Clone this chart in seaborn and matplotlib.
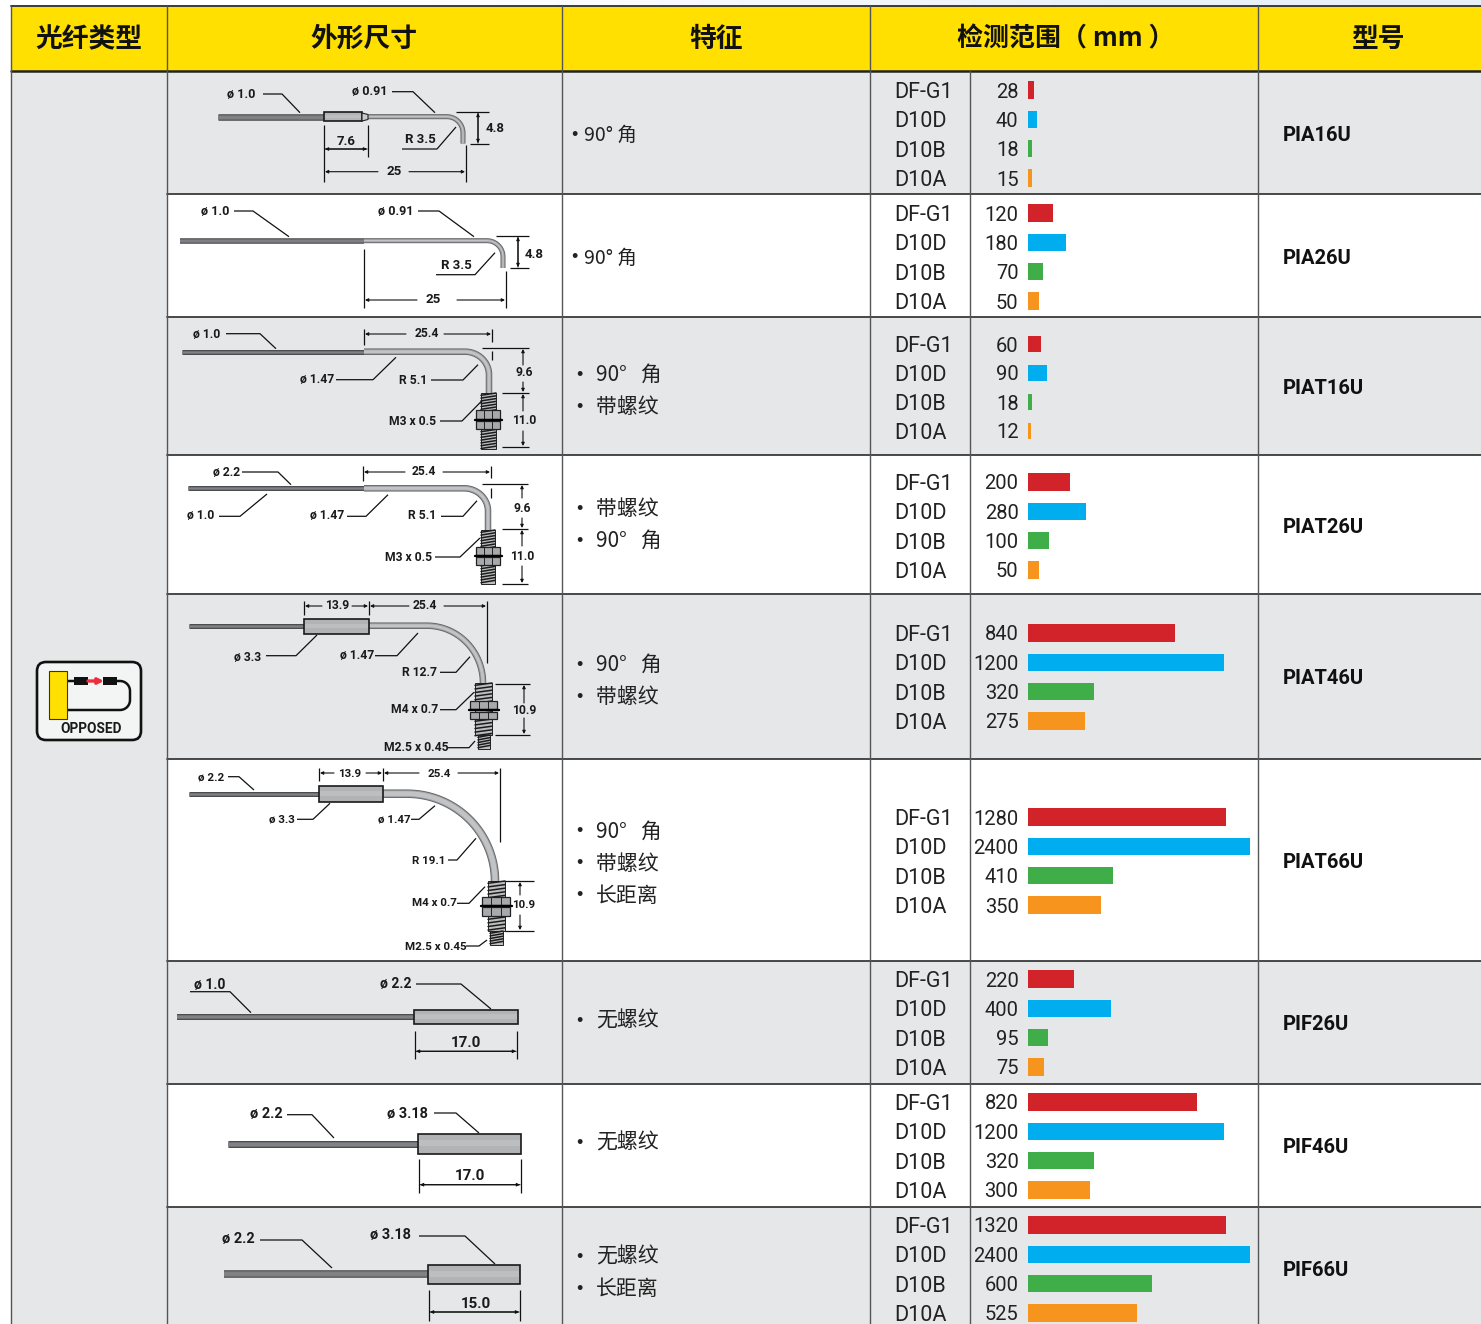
import numpy as np
import pandas as pd
import matplotlib
matplotlib.use('Agg')
import matplotlib.pyplot as plt
import seaborn as sns
from matplotlib.colors import LinearSegmentedColormap
from matplotlib.patches import Rectangle, FancyBboxPatch

W, H = 1481, 1324

# table text
headers = ['光纤类型', '外形尺寸', '特征', '检测范围（ mm ）', '型号']
sensors = ['DF-G1', 'D10D', 'D10B', 'D10A']
models = ['PIA16U', 'PIA26U', 'PIAT16U', 'PIAT26U', 'PIAT46U', 'PIAT66U', 'PIF26U', 'PIF46U', 'PIF66U']
bar_colors = ['#D2232A', '#00AEEF', '#3FAE49', '#F7941E']

feature_lines = [
    ['90° 角'], ['90° 角'],
    ['90°   角', '带螺纹'], ['带螺纹', '90°   角'], ['90°   角', '带螺纹'],
    ['90°   角', '带螺纹', '长距离'],
    ['无螺纹'], ['无螺纹'], ['无螺纹', '长距离'],
]

# printed ranges in mm
range_pia16u = [28, 40, 18, 15]
range_pia26u = [120, 180, 70, 50]
range_piat16u = [60, 90, 18, 12]
range_piat26u = [200, 280, 100, 50]
range_piat46u = [840, 1200, 320, 275]
range_piat66u = [1280, 2400, 410, 350]
range_pif26u = [220, 400, 95, 75]
range_pif46u = [820, 1200, 320, 300]
range_pif66u = [1320, 2400, 600, 525]

# the bars are not to scale with the numbers, so lengths are read separately
bars_pia16u = [6, 9, 4, 4]
bars_pia26u = [25, 38, 15, 11]
bars_piat16u = [13, 19, 4, 3]
bars_piat26u = [42, 58, 21, 11]
bars_piat46u = [147, 196, 66, 57]
bars_piat66u = [198, 222, 85, 73]
bars_pif26u = [46, 83, 20, 16]
bars_pif46u = [169, 196, 66, 62]
bars_pif66u = [198, 222, 124, 109]

all_ranges = [range_pia16u, range_pia26u, range_piat16u, range_piat26u, range_piat46u,
              range_piat66u, range_pif26u, range_pif46u, range_pif66u]
all_bars = [bars_pia16u, bars_pia26u, bars_piat16u, bars_piat26u, bars_piat46u,
            bars_piat66u, bars_pif26u, bars_pif46u, bars_pif66u]

# layout in picture pixels
row_edges = [71, 194, 317, 455, 594, 759, 961, 1084, 1207, 1340]
first_label_y = [90, 213, 344, 482, 633, 817, 979, 1102, 1225]
last_label_y = [178, 301, 431, 570, 721, 905, 1067, 1190, 1313]
model_y = [134, 257, 387, 526, 677, 861, 1023, 1146, 1269]
feature_y = [[134], [257], [374, 406], [508, 540], [664, 696], [831, 863, 895], [1020], [1142], [1256, 1288]]
col_x = [11, 167, 562, 870, 1258]

sns.set_theme(style='white')
NARROW = 'Roboto'
CJK = ['Noto Sans CJK SC', 'DejaVu Sans']
plt.rcParams['font.family'] = CJK

fig = plt.figure(figsize=(W / 100, H / 100), dpi=100, facecolor='white')
ax = fig.add_axes([0, 0, 1, 1])

GRAY = '#E6E7E8'
YELLOW = '#FFE000'
LINE = '#3A3A3A'

# pale blue strip above the header
strip = LinearSegmentedColormap.from_list('strip', ['#FFFFFF', '#FFFFFF', '#F6F9FC', '#E9F1F9', '#E6EFF8'])
ax.imshow(np.linspace(0, 1, 256)[None, :], cmap=strip, extent=(0, W, 6, 0), aspect='auto', zorder=0)
ax.set_xlim(0, W)
ax.set_ylim(H, 0)
ax.axis('off')

# backgrounds
ax.add_patch(Rectangle((11, 6), W - 11, 65, fc=YELLOW, ec='none', zorder=0))
ax.add_patch(Rectangle((11, 71), 156, H - 71, fc=GRAY, ec='none', zorder=0))
for i in range(9):
    if i % 2 == 0:
        ax.add_patch(Rectangle((167, row_edges[i]), W - 167, row_edges[i + 1] - row_edges[i],
                               fc=GRAY, ec='none', zorder=0))

# grid lines
ax.plot([11, W], [6, 6], color=LINE, lw=1.4, zorder=1)
ax.plot([11, W], [71, 71], color='#222222', lw=1.8, zorder=1)
for y in row_edges[1:-1]:
    ax.plot([167, W], [y, y], color=LINE, lw=1.3, zorder=1)
for x in col_x:
    ax.plot([x, x], [6, H], color='#555555', lw=1.0, zorder=1)
ax.plot([970, 970], [71, H], color='#555555', lw=1.0, zorder=1)

# header
header_x = [89, 364, 716, 1066, 1378]
header_size = [19.3, 19.3, 19.3, 18.7, 19.3]
for x, s, fs in zip(header_x, headers, header_size):
    ax.text(x, 39, s, ha='center', va='center', fontsize=fs, fontweight='bold', color='#111111', family=CJK)

# feature bullets and model names
for i in range(9):
    small = i < 2
    for y, s in zip(feature_y[i], feature_lines[i]):
        ax.text(571 if small else 576, y + 1, '•', ha='left', va='center', fontsize=13,
                color='#222222', family='Liberation Sans')
        ax.text(584 if small else 596, y + 1, s, ha='left', va='center', fontsize=14 if small else 15,
                color='#222222', family=CJK)
    ax.text(1283, model_y[i] + 1.5, models[i], ha='left', va='center', fontsize=14.5, fontweight='bold',
            color='#111111', family=NARROW)


# bars, one small axes per row
for i in range(9):
    step = (last_label_y[i] - first_label_y[i]) / 3
    top = first_label_y[i] - step / 2
    height = step * 4
    axb = fig.add_axes([1028 / W, 1 - (top + height) / H, 230 / W, height / H])
    df = pd.DataFrame({'sensor': sensors, 'length': all_bars[i]})
    sns.barplot(data=df, x='length', y='sensor', hue='sensor', palette=bar_colors, legend=False,
                width=0.58, saturation=1, orient='h', linewidth=0, edgecolor='none', ax=axb)
    axb.set_xlim(0, 230)
    axb.set_ylim(3.5, -0.5)
    axb.patch.set_alpha(0)
    axb.set_xlabel('')
    axb.set_ylabel('')
    axb.xaxis.set_visible(False)
    axb.tick_params(axis='y', length=0, pad=134 * 0.72)
    for lab in axb.get_yticklabels():
        lab.set_ha('left')
        lab.set_family(NARROW)
        lab.set_fontsize(15.5)
        lab.set_color('#222222')
    for k, v in enumerate(all_ranges[i]):
        axb.annotate(str(v), xy=(0, k), xytext=(-6.8, 0), textcoords='offset points', ha='right',
                     va='center_baseline', fontsize=14.5, color='#222222', family=NARROW)
    sns.despine(ax=axb, left=True, bottom=True)


# drawing helpers, all in picture pixels
def label(x, y, s, size=10.5):
    ax.text(x, y + 0.8, s, ha='center', va='center', fontsize=size * 0.87, fontweight='bold', color='#1a1a1a',
            family=NARROW, zorder=6)


def leader(*pts):
    xs, ys = zip(*pts)
    ax.plot(xs, ys, color='#111111', lw=0.9, zorder=5, solid_capstyle='butt')


def seg(x0, y0, x1, y1, lw=0.9):
    ax.plot([x0, x1], [y0, y1], color='#111111', lw=lw, zorder=5, solid_capstyle='butt')


def arrow(x0, y0, x1, y1):
    ax.annotate('', xy=(x1, y1), xytext=(x0, y0), zorder=5,
                arrowprops=dict(arrowstyle='-|>', mutation_scale=4.5, lw=0.8, color='#111111',
                                shrinkA=0, shrinkB=0))


def dim_h(x0, x1, y, gap=None):
    if gap is None:
        arrow(x0, y, x1, y)
        arrow(x1, y, x0, y)
    else:
        arrow(gap[0], y, x0, y)
        arrow(gap[1], y, x1, y)


def dim_v(x, y0, y1, gap=None):
    if gap is None:
        arrow(x, y0, x, y1)
        arrow(x, y1, x, y0)
    else:
        arrow(x, gap[0], x, y0)
        arrow(x, gap[1], x, y1)


def tube(xs, ys, thick, outer, mid, light):
    ax.plot(xs, ys, color=outer, lw=thick * 0.72, zorder=3, solid_capstyle='butt', solid_joinstyle='round')
    ax.plot(xs, ys, color=mid, lw=(thick - 1.6) * 0.72, zorder=3, solid_capstyle='butt', solid_joinstyle='round')
    ax.plot(xs, ys, color=light, lw=(thick - 3.6) * 0.72, zorder=3, solid_capstyle='butt', solid_joinstyle='round')


def dark_fiber(x0, x1, y, thick=5.5):
    tube([x0, x1], [y, y], thick, '#444547', '#6D6E71', '#808285')


def bent_tube(x0, y0, x_start, x_end, y_end, y_stop, thick=5.5):
    # straight run, quarter curve, then straight down
    t = np.linspace(0, np.pi / 2, 40)
    xs = x_start + (x_end - x_start) * np.sin(t)
    ys = y_end + (y0 - y_end) * np.cos(t)
    xs = np.r_[x0, xs, x_end]
    ys = np.r_[y0, ys, y_stop]
    tube(xs, ys, thick, '#5F6062', '#9A9C9F', '#C2C3C5')


def sleeve(x0, x1, y0, y1):
    ax.add_patch(Rectangle((x0, y0), x1 - x0, y1 - y0, fc='#B1B3B5', ec='#1a1a1a', lw=1.2, zorder=4))
    ax.add_patch(Rectangle((x0 + 1, (y0 + y1) / 2 - (y1 - y0) * 0.18), x1 - x0 - 2, (y1 - y0) * 0.3,
                           fc='#BDBEC0', ec='none', zorder=4))


def thread(x0, x1, y0, y1, pitch=2.8):
    ax.add_patch(Rectangle((x0, y0), x1 - x0, y1 - y0, fc='#BCBEC0', ec='#222222', lw=0.7, zorder=4))
    for y in np.arange(y0 + 1, y1, pitch):
        ax.plot([x0, x1], [y + 1.3, y - 1.0], color='#1c1c1c', lw=1.1, zorder=4)


def nuts(x0, x1, top1, bot1, plate, top2, bot2):
    for a, b in [(top1, bot1), (top2, bot2)]:
        ax.add_patch(Rectangle((x0, a), x1 - x0, b - a, fc='#A7A9AC', ec='#222222', lw=0.9, zorder=4.5))
        w = x1 - x0
        for f in [0.33, 0.67]:
            ax.plot([x0 + w * f] * 2, [a, b], color='#222222', lw=0.7, zorder=4.5)
    ax.plot([x0 - 1, x1 + 2], [plate, plate], color='#000000', lw=1.7, zorder=4.6)


# row 1
dark_fiber(218, 324, 116.7, 6.5)
bent_tube(368, 116.7, 447, 463, 133, 143.5, 5)
sleeve(324, 362, 112, 121)
ax.fill([362, 368, 368, 362], [113, 114.5, 119.5, 121], fc='#C9CACC', ec='#222222', lw=0.8, zorder=4)
label(241, 94, 'ø 1.0')
leader((263, 94), (282, 94), (300, 112.7))
label(370, 91, 'ø 0.91')
leader((392, 91.7), (413, 91.7), (435, 112.7))
seg(324, 125, 324, 182)
seg(368, 125, 368, 157)
dim_h(325, 367, 149)
label(346, 141, '7.6', 11)
dim_h(325, 465, 171.7, gap=(378, 409))
label(394, 171, '25', 11)
seg(466, 145, 466, 182)
seg(456, 112.3, 489, 112.3)
seg(470, 143.7, 489, 143.7)
dim_v(478, 113, 143)
label(495, 128, '4.8', 11)
label(420, 138.5, 'R 3.5', 11)
leader((402, 149), (437, 149), (456, 127))

# row 2
dark_fiber(180, 364, 240.7, 5.5)
bent_tube(364, 240.7, 487, 503, 256.7, 268, 5)
label(215, 211, 'ø 1.0')
leader((234, 211), (253, 211), (289, 236.7))
label(396, 211, 'ø 0.91')
leader((418, 211), (439, 211), (474, 236.7))
seg(496, 236, 529, 236)
seg(510, 268, 529, 268)
dim_v(518, 237, 267)
label(534, 254, '4.8', 11)
label(456, 264.5, 'R 3.5', 11)
leader((436, 274.7), (475, 274.7), (495, 252.7))
seg(364, 249, 364, 308)
seg(506, 271, 506, 308)
dim_h(365, 505, 300, gap=(417, 457))
label(433, 299, '25', 11)

# row 3
dark_fiber(182, 364, 351.7, 5)
bent_tube(364, 351.7, 465, 489, 374.7, 393, 6.5)
thread(481, 496, 393, 449)
nuts(476, 500, 410, 419, 420, 421, 429)
label(207, 334, 'ø 1.0', 10)
leader((226, 333.7), (260, 333.7), (276, 348.7))
label(317, 379, 'ø 1.47', 10)
leader((336, 379.7), (373, 379.7), (396, 357.3))
label(413, 380, 'R 5.1', 10)
leader((431, 380), (463, 380), (478, 364.7))
label(413, 420.7, 'M3 x 0.5', 10)
leader((440, 421), (462, 421), (482, 400.7))
seg(364, 329, 364, 345)
seg(492, 329, 492, 342)
seg(492, 351, 492, 360)
dim_h(365, 491, 334, gap=(406, 444))
label(427, 333, '25.4', 10)
seg(482, 348, 529, 348)
seg(502, 393, 529, 393)
seg(502, 447, 529, 447)
dim_v(523, 349, 392, gap=(365, 382))
label(524, 372, '9.6', 10)
dim_v(523, 394, 446, gap=(411, 431))
label(524, 420, '11.0', 10)

# row 4
dark_fiber(188, 364, 488.3, 5)
bent_tube(364, 488.3, 464, 488, 511, 530, 6.5)
thread(481, 495, 530, 584)
nuts(476, 500, 547, 555, 556, 557, 565)
label(227, 472, 'ø 2.2', 10)
leader((242, 472), (278, 472), (291, 484.7))
label(201, 515, 'ø 1.0', 10)
leader((219, 516.3), (240, 516.3), (267, 494))
label(327, 515, 'ø 1.47', 10)
leader((347, 516.3), (366, 516.3), (388, 494.7))
label(422, 515, 'R 5.1', 10)
leader((441, 516.3), (463, 516.3), (477, 500.7))
label(409, 556.7, 'M3 x 0.5', 10)
leader((435, 557), (460, 557), (480, 538))
seg(363, 466, 363, 481)
seg(491, 466, 491, 478)
seg(491, 488, 491, 498)
dim_h(364, 490, 472, gap=(405, 443))
label(424, 471, '25.4', 10)
seg(482, 484, 528, 484)
seg(502, 528.7, 528, 528.7)
seg(502, 584, 528, 584)
dim_v(522, 485, 528, gap=(498, 518))
label(522, 508, '9.6', 10)
dim_v(522, 530, 583, gap=(546, 566))
label(522.5, 556, '11.0', 10)

# row 5
dark_fiber(189, 304, 625.7, 5)
bent_tube(369, 625.7, 427, 483, 683, 684, 6.5)
thread(475, 492, 683, 735, 3.6)
thread(478, 490, 735, 749, 2.6)
nuts(470, 497, 701, 709, 710, 712, 719)
sleeve(304, 369, 619, 634)
seg(304, 601, 304, 615)
seg(369, 601, 369, 615)
dim_h(305, 368, 606, gap=(322, 352))
label(337, 605, '13.9', 10)
dim_h(370, 486, 606, gap=(409, 444))
label(425, 605, '25.4', 10)
seg(487, 601, 487, 663)
label(248, 657, 'ø 3.3', 10)
leader((266, 655.7), (296, 655.7), (317, 635))
label(357, 655, 'ø 1.47', 10)
leader((375, 655.7), (397, 655.7), (418, 633))
label(420, 671.7, 'R 12.7', 10)
leader((440, 672.3), (456, 672.3), (470, 656.7))
label(415, 708.7, 'M4 x 0.7', 10)
leader((440, 709.7), (456, 709.7), (474, 692.3))
label(416, 746.7, 'M2.5 x 0.45', 10)
leader((448, 747.7), (469, 747.7), (475, 741))
seg(495, 684, 530, 684)
seg(495, 734.7, 530, 734.7)
dim_v(524, 685, 734, gap=(703, 718))
label(524, 710, '10.9', 10)

# row 6
dark_fiber(189, 319, 793.7, 5)
bent_tube(383, 793.7, 407, 495, 881, 882, 8.5)
thread(488, 505, 881, 931, 3.6)
thread(490, 503, 931, 945, 2.6)
nuts(482, 510, 897, 905, 906, 907, 916)
sleeve(319, 383, 786, 802)
label(211, 777, 'ø 2.2', 9.5)
leader((228, 776.7), (239, 776.7), (254, 790))
seg(319, 768, 319, 781)
seg(383, 768, 383, 781)
dim_h(320, 382, 773, gap=(334, 366))
label(350, 773, '13.9', 9.5)
dim_h(384, 499, 773, gap=(419, 458))
label(439, 773, '25.4', 9.5)
seg(500, 768, 500, 842)
label(282, 819, 'ø 3.3', 9.5)
leader((297, 819.3), (313, 819.3), (330, 803.3))
label(394, 819, 'ø 1.47', 9.5)
leader((411, 819.3), (419, 819.3), (435, 805.7))
label(429, 860, 'R 19.1', 9.5)
leader((448, 860), (457, 860), (476, 838.3))
label(434, 902.7, 'M4 x 0.7', 9.5)
leader((457, 903.3), (469, 903.3), (485, 886.7))
label(436, 945.7, 'M2.5 x 0.45', 9.5)
leader((466, 946), (479, 946), (487, 940))
seg(505, 880.7, 534, 880.7)
seg(505, 931, 534, 931)
dim_v(520, 882, 930, gap=(895, 915))
label(524, 904, '10.9', 9.5)

# row 7
dark_fiber(177, 414, 1017.3, 6)
sleeve(414, 518, 1010, 1024)
label(210, 984, 'ø 1.0', 11.5)
leader((190, 991.7), (230, 991.7), (251, 1012.7))
label(396, 983.5, 'ø 2.2', 11.5)
leader((416, 984), (461, 984), (491, 1009))
seg(415, 1031, 415, 1059)
seg(517, 1031, 517, 1059)
dim_h(416, 516, 1051.3)
label(466, 1042, '17.0', 12.5)

# row 8
dark_fiber(228, 418, 1144, 7)
sleeve(418, 521, 1134, 1154)
label(266, 1113, 'ø 2.2', 12)
leader((287, 1114.7), (312, 1114.7), (334, 1138))
label(407, 1113, 'ø 3.18', 12)
leader((434, 1113), (456, 1113), (479, 1133))
seg(419, 1159, 419, 1193)
seg(521, 1159, 521, 1193)
dim_h(420, 520, 1184.7)
label(470, 1175, '17.0', 12.5)

# row 9
dark_fiber(224, 428, 1274, 7.5)
sleeve(428, 520, 1265, 1284)
label(238, 1238, 'ø 2.2', 12)
leader((260, 1240), (302, 1240), (332, 1268))
label(390, 1234, 'ø 3.18', 12)
leader((419, 1236), (465, 1236), (495, 1264))
seg(429, 1290, 429, 1321)
seg(520, 1290, 520, 1321)
dim_h(430, 519, 1312)
label(476, 1303, '15.0', 12.5)

# OPPOSED icon
ax.add_patch(FancyBboxPatch((43, 668), 92, 66, boxstyle='round,pad=6,rounding_size=9',
                            fc='#F3F4F4', ec='#111111', lw=1.9, zorder=3))
ax.add_patch(Rectangle((48.7, 670.7), 18.3, 48.6, fc=YELLOW, ec='#333333', lw=0.8, zorder=4))
t = np.linspace(0, np.pi / 2, 12)
loop_x = np.r_[67, 120 + 10 * np.sin(t), 120 + 10 * np.cos(t), 67]
loop_y = np.r_[681, 691 - 10 * np.cos(t), 700 + 10 * np.sin(t), 710]
ax.plot(loop_x, loop_y, color='#111111', lw=1.8, zorder=3.5)
ax.add_patch(Rectangle((74, 677), 14.3, 8, fc='#111111', ec='none', zorder=4))
ax.add_patch(Rectangle((103, 677), 14, 8, fc='#111111', ec='none', zorder=4))
ax.add_patch(Rectangle((88, 678), 15, 6, fc='#F2F4F4', ec='none', zorder=4))
ax.annotate('', xy=(104, 681), xytext=(88, 681), zorder=5,
            arrowprops=dict(arrowstyle='-|>', mutation_scale=8, lw=2.4, color='#EE2E3C', shrinkA=0, shrinkB=0))
ax.text(91, 729, 'OPPOSED', ha='center', va='center', fontsize=9.8, fontweight='bold',
        color='#1a1a1a', family=NARROW, zorder=5)

fig.savefig('out.png', dpi=100)
